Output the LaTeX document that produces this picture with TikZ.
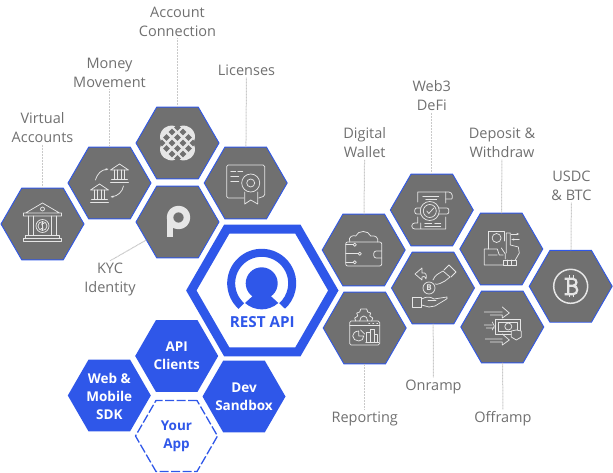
\documentclass[tikz,border=0pt]{standalone}
\usepackage{fontspec}
\setmainfont{Open Sans}
\usetikzlibrary{arrows.meta,shapes.geometric,positioning}
\definecolor{hb}{HTML}{2F57E9}
\definecolor{hg}{HTML}{707070}
\definecolor{ll}{HTML}{C9C9C9}
\definecolor{ic}{HTML}{E6E6E6}
\tikzset{
  icon/.style={draw=ic,line width=.75pt,line join=round,line cap=round},
  minibank/.pic={
    \draw (-9,-3) -- (0,-9) -- (9,-3) -- cycle;
    \draw (-5,-3) -- (-5,6) (-2,-3) -- (-2,6) (2,-3) -- (2,6) (5,-3) -- (5,6);
    \draw (-8,6) -- (8,6) (-9,9) -- (9,9);},
  bankicon/.pic={
    \draw (-17,-11) -- (0,-21) -- (17,-11) (-19,-11) -- (19,-11) -- (19,-8) -- (-19,-8) -- cycle;
    \draw (0,-15) circle (2);
    \draw (-14,-8) -- (-14,11) (-9,-8) -- (-9,11) (9,-8) -- (9,11) (14,-8) -- (14,11);
    \draw (0,2) circle (6.5) (0,2) circle (4.5);
    \draw (1.5,-.5) .. controls (0,-1.5) and (-1.8,-.8) .. (0,2) .. controls (1.8,4) and (0,5.5) .. (-1.5,4.5) (0,-2) -- (0,6);
    \draw (-17,11) -- (17,11) -- (17,14) -- (-17,14) -- cycle (-19,14) -- (19,14) -- (19,17) -- (-19,17) -- cycle;},
  moneyicon/.pic={
    \pic at (10,-10) {minibank};
    \pic at (-10,10) {minibank};
    \draw[-{Stealth[length=3pt]}] (-14,-3) .. controls (-12,-10) and (-8,-13) .. (-1,-14);
    \draw[-{Stealth[length=3pt]}] (14,3) .. controls (13,9) and (8,13) .. (1,14);},
  plaidicon/.pic={
    \fill[ic,rounded corners=2pt] (-7,-18) -- (0,-16) -- (7,-18) -- (15,-14) -- (18,-7) -- (16,0) -- (18,7) -- (15,14) -- (7,18) -- (0,16) -- (-7,18) -- (-15,14) -- (-18,7) -- (-16,0) -- (-18,-7) -- (-15,-14) -- cycle;
    \foreach \a/\b in {-5.5/-11,5.5/-11,-11/-5.5,0/-5.5,11/-5.5,-5.5/0,5.5/0,-11/5.5,0/5.5,11/5.5,-5.5/11,5.5/11,0/-15.5,0/15.5,-15.5/0,15.5/0}
      \fill[hg] (\a-3.3,\b) -- (\a,\b-3.3) -- (\a+3.3,\b) -- (\a,\b+3.3) -- cycle;},
  certicon/.pic={
    \draw[rounded corners=1.5pt] (-2,15) -- (-19,15) -- (-19,-18) -- (19,-18) -- (19,13) -- (13,15);
    \draw (-15,-12) -- (-10,-12) (-8,-12) -- (-3,-12) (-15,-7) -- (-7,-7) (-15,-2) -- (-7,-2);
    \draw (5,0) circle (9) (5,0) circle (4);
    \draw (-1,9) -- (-1,21) -- (5,17) -- (12,21) -- (12,9);},
  pploicon/.pic={
    \draw[ic,line width=6.5pt] (1,-4.5) circle (8.5);
    \fill[ic] (-10.8,-4.5) rectangle (-4.3,15.5);},
  walleticon/.pic={
    \draw[rounded corners=2pt] (-18,-8) -- (-18,16) -- (18,16) -- (18,-8) -- cycle;
    \draw (-14,-8) .. controls (-16,-14) and (-10,-15) .. (-8,-14) .. controls (-6,-20) and (5,-20) .. (7,-14) .. controls (12,-15) and (15,-12) .. (14,-8);
    \draw[rounded corners=2.5pt] (18,1) -- (10,1) -- (10,8) -- (18,8);
    \draw (-18,-5.3) -- (-10.5,-5.3) (-18,3.7) -- (-5.5,3.7) (-18,12.3) -- (-10.5,12.3);
    \draw (-8.9,-5.3) circle (1.6) (-3.9,3.7) circle (1.6) (-8.9,12.3) circle (1.6);},
  webicon/.pic={
    \draw (-14,-8) -- (-14,-18) -- (17,-18) .. controls (21,-18) and (21,-12) .. (20,-11) -- (14,-11);
    \draw (14,-18) -- (14,-7) (14,7) -- (14,19) -- (-17,19) .. controls (-21,19) and (-21,13) .. (-17,13) -- (-14,13) -- (-14,7) (-11,13) -- (-11,19);
    \draw (-2,1) circle (9.5) (-2,1) circle (6.5);
    \draw (-5,1) -- (-3,3.5) -- (2,-2);
    \draw[rounded corners=2pt] (-11,-2) -- (-17,-2) -- (-17,4) -- (-11,4) (7,-2) -- (17,-2) -- (17,4) -- (7,4);
    \draw (-9,-14) -- (7,-14) (-6,-11) -- (5,-11) (-7,13) -- (0,13) (3,13) -- (9,13) (-7,16) -- (9,16);},
  onricon/.pic={
    \draw (-4,0) circle (6);
    \node[ic,inner sep=0pt,font=\fontsize{8}{8}\selectfont\bfseries] (oncoin) at (-4,0) {B};
    \draw (-20.7,9) -- (-11.5,9) -- (-11.5,19) -- (-20.7,19) -- cycle;
    \draw (-11.5,11) .. controls (-6,8) and (-2,9) .. (1,11) -- (14,9) .. controls (15,10) and (14,11) .. (12,12) -- (2,18) -- (-4,19) -- (-11.5,17);
    \draw (-5,12.5) -- (3,12.5);
    \draw (0,-8) .. controls (2,-13) and (5,-14) .. (10,-17) -- (17,-11) -- (12,-7) .. controls (8,-5) and (5,-3) .. (2,-4);
    \draw (11,-18) -- (16,-23) -- (23,-16) -- (18,-11);
    \draw (-18,-14) -- (-11,-20) -- (-11,-15) .. controls (-7,-16) and (-6,-13) .. (-7,-9) .. controls (-8,-12) and (-10,-12) .. (-11,-11) -- (-11,-8) -- cycle;},
  depicon/.pic={
    \draw (3,-8) -- (3,-18) -- (-13,-18) -- (-13,0);
    \draw (-4.7,-11) circle (4.5);
    \draw (-17,0) -- (-4,0) -- (-2,6) -- (2,6) (-13,6) -- (-4,6) (-17,0) -- (-17,16) -- (2,16);
    \draw (2,11) -- (15,11) -- (15,16.5) -- (2,16.5) -- cycle (6,11) -- (6,16.5) (10,11) -- (10,16.5);
    \draw (4,10) -- (4,5) -- (0,-1) (5,4) -- (5,-16) -- (9,-16) -- (9,-4) -- (17,-2) -- (18,4) -- (14,11);
    \draw[-{Stealth[length=3pt]}] (10,-15) -- (18,-15);
    \draw[-{Stealth[length=3pt]}] (18,-9.5) -- (10,-9.5);},
  coinicon/.pic={
    \draw[line width=1.5pt] (0,0) circle (17);
    \draw[line width=2.2pt,line cap=butt,line join=miter] (-2.5,-7.5) -- (-2.5,8) (-6,-7.5) -- (2,-7.5) .. controls (7,-7.5) and (7,-.5) .. (2,-.5) -- (-3,-.5) (2,-.5) .. controls (8,-.5) and (8,8) .. (2,8) -- (-6,8);
    \draw[line width=1.4pt,line cap=butt] (-1.5,-11) -- (-1.5,-8) (2.5,-11) -- (2.5,-8) (-1.5,8) -- (-1.5,11) (2.5,8) -- (2.5,11);},
  ofricon/.pic={
    \draw (-7,-8) -- (18,-8) -- (18,7) -- (-7,7) -- cycle;
    \draw (-4,-5) -- (15,-5) -- (15,4) -- (-4,4) -- cycle;
    \draw (6,-.5) circle (3.5);
    \draw (-18,-15) -- (0,-15) (0,-20) -- (7,-14) -- (0,-9) -- (0,-12) -- (-12,-12);
    \draw (-18,-2) -- (-10,-2) (-16,1) -- (-8,1) (-10,-5) -- (-8,-1) -- (-10,3);
    \draw (-17,12) -- (0,12) (0,7) -- (7,13) -- (0,18) -- (0,15) -- (-12,15);
    \fill[hg] (14,13) -- (9,10) -- (9,4) -- (14,3) -- (19,4) -- (19,10) -- cycle;
    \draw (14,13) -- (9,10) -- (9,4) -- (14,3) -- (19,4) -- (19,10) -- cycle;},
  repicon/.pic={
    \draw[rounded corners=1.5pt] (-15,-7) -- (-15,17) -- (15,17) -- (15,-7) -- cycle;
    \draw (-15,-2.3) -- (15,-2.3) (4,-4.6) -- (5,-4.6) (8,-4.6) -- (9,-4.6) (12,-4.6) -- (13,-4.6);
    \draw (-9,-7) -- (-10,-10) -- (-7,-12) -- (-8,-15) -- (-5,-16) -- (-4,-19) -- (2,-19) -- (3,-16) -- (6,-15) -- (5,-12) -- (8,-10) -- (7,-7);
    \draw (-5,-7) .. controls (-5,-10) and (-3,-12) .. (-1,-12) .. controls (1,-12) and (3,-10) .. (3,-7);
    \draw (-6,8) -- (-6,3) .. controls (-10,3) and (-12,6) .. (-12,8) .. controls (-12,11) and (-9,13) .. (-6,13) .. controls (-3,13) and (-1,11) .. (-1,8) -- cycle;
    \draw (-4,2) -- (0,6);
    \draw (2,14) -- (2,4) -- (6,4) -- (6,14) (6,14) -- (6,1) -- (10,1) -- (10,14) (10,14) -- (10,6) -- (13,6) -- (13,14) (1,14) -- (14,14);}
}
\begin{document}
\begin{tikzpicture}[x=1pt,y=-1pt,font=\fontsize{14.5}{19}\selectfont,
  hx/.style={regular polygon,regular polygon sides=6,minimum size=83pt,inner sep=0pt,outer sep=0pt},
  gy/.style={hx,fill=hg,draw=hb,line width=.9pt},
  bl/.style={hx,fill=hb},
  bt/.style={inner sep=0pt,align=center,font=\fontsize{13.5}{18}\selectfont\bfseries},
  lb/.style={text=hg,align=center,inner sep=2pt},
  ln/.style={draw=ll,line width=1pt,dash pattern=on 1pt off .5pt}]
\useasboundingbox (0,0) rectangle (613,473);
% left group
\node[gy] (vac) at (42.5,224) {};
\node[gy] (mny) at (109.5,183) {};
\node[gy] (acc) at (177.5,143) {};
\node[gy] (lic) at (245.7,183) {};
\node[gy] (kyc) at (177.5,222) {};
% right group
\node[gy] (wal) at (363.7,250) {};
\node[gy] (web) at (431.8,210) {};
\node[gy] (onr) at (433,288) {};
\node[gy] (dep) at (501.3,249) {};
\node[gy] (btc) at (570.7,286.3) {};
\node[gy] (ofr) at (502.3,327) {};
\node[gy] (rep) at (364.7,328) {};
% blue group
\node[bl] (cli) at (176.7,356) {};
\node[bl] (sdk) at (109.3,395.5) {};
\node[bl] (dev) at (244,396.5) {};
\node[hx,draw=hb,dash pattern=on 9pt off 2.5pt,line width=1.3pt,minimum size=82pt] (app) at (176.5,436) {};
\node[hx,draw=hb,line width=9pt,minimum size=142pt] (api) at (262.3,290.5) {};
\node[bt,text=white] (clilb) at (cli.center) {API\\Clients};
\node[bt,text=white] (sdklb) at (109.3,396.5) {Web \&\\Mobile\\SDK};
\node[bt,text=white] (devlb) at (dev.center) {Dev\\Sandbox};
\node[bt,text=hb] (applb) at (app.center) {Your\\App};
\node[text=hb,inner sep=0pt,font=\fontsize{15.2}{17}\selectfont\bfseries] (apilb) at (262.3,322) {REST API};
% logo
\draw[hb,line width=8pt] ([shift={(132:30.5)}]261.7,283.3) arc (132:408:30.5);
\fill[hb] (261.7,283.3) circle (16);
\fill[hb] (252.7,296) -- (245,303) .. controls (255,311.5) and (268.5,311.5) .. (278.3,303) -- (270.7,296) -- cycle;
% labels
\node[lb] (vaclb) at (42.5,127.5) {Virtual\\Accounts};
\node[lb] (mnylb) at (109.5,72.5) {Money\\Movement};
\node[lb] (acclb) at (177.5,21.5) {Account\\Connection};
\node[lb] (liclb) at (246.5,70) {Licenses};
\node[lb] (kyclb) at (110,279.5) {KYC\\Identity};
\node[lb] (wallb) at (364.7,142.5) {Digital\\Wallet};
\node[lb] (weblb) at (431.8,95.5) {Web3\\DeFi};
\node[lb] (deplb) at (502,142.5) {Deposit \&\\Withdraw};
\node[lb] (btclb) at (571.5,185.5) {USDC\\\& BTC};
\node[lb] (onrlb) at (433.5,387) {Onramp};
\node[lb] (replb) at (364.7,419) {Reporting};
\node[lb] (ofrlb) at (503,419) {Offramp};
% leaders
\draw[ln] (vaclb) -- (vac);
\draw[ln] (mnylb) -- (mny);
\draw[ln] (acclb) -- (acc);
\draw[ln] (liclb) -- (lic);
\draw[ln] (kyclb.north) -- (kyc.210);
\draw[ln] (wallb) -- (wal);
\draw[ln] (weblb) -- (web);
\draw[ln] (deplb) -- (dep);
\draw[ln] (btclb) -- (btc);
\draw[ln] (onr) -- (onrlb);
\draw[ln] (rep) -- (replb);
\draw[ln] (ofr) -- (ofrlb);
% icons
\pic[icon] at (vac.center) {bankicon};
\pic[icon] at (mny.center) {moneyicon};
\pic[icon] at (acc.center) {plaidicon};
\pic[icon] at (lic.center) {certicon};
\pic[icon] at (kyc.center) {pploicon};
\pic[icon] at (wal.center) {walleticon};
\pic[icon] at (web.center) {webicon};
\pic[icon] at (onr.center) {onricon};
\pic[icon] at (dep.center) {depicon};
\pic[icon] at (btc.center) {coinicon};
\pic[icon] at (ofr.center) {ofricon};
\pic[icon] at (rep.center) {repicon};
\end{tikzpicture}
\end{document}
